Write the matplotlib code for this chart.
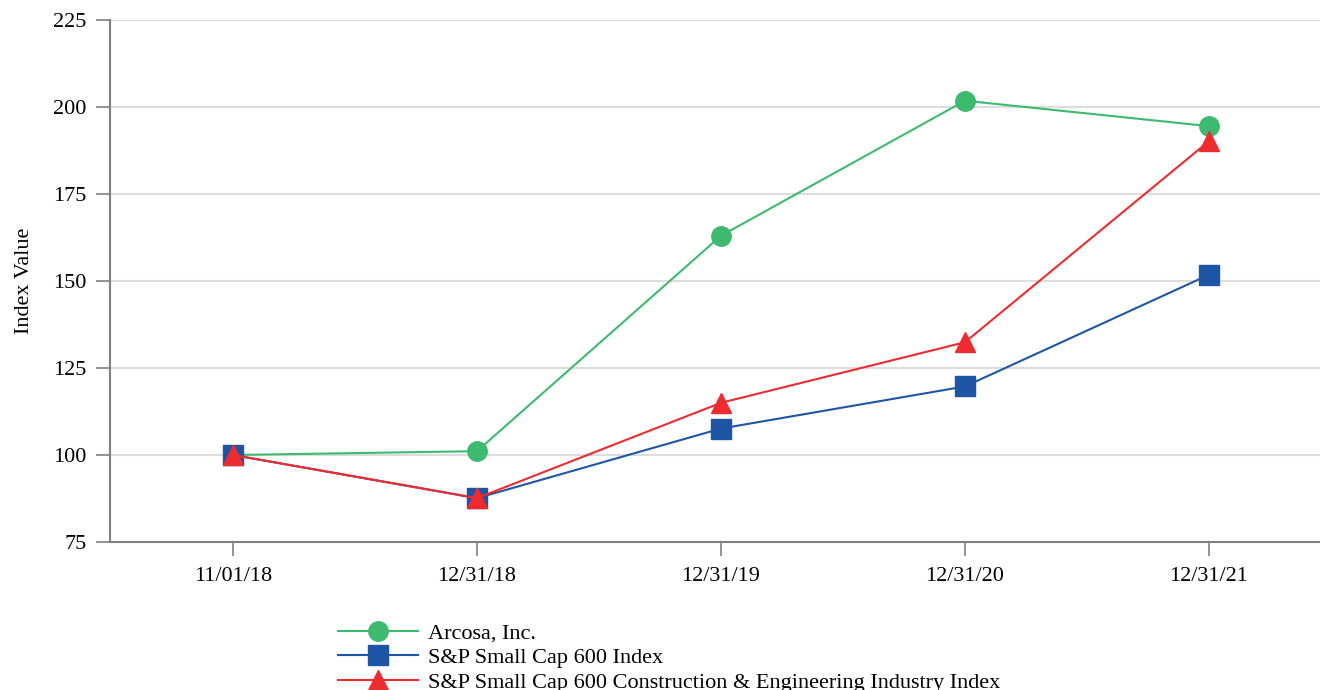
import matplotlib
matplotlib.use('Agg')
import matplotlib.pyplot as plt

dates = ['11/01/18', '12/31/18', '12/31/19', '12/31/20', '12/31/21']
arcosa = [100.0, 101.1, 163.0, 201.8, 194.5]
sp600 = [100.0, 87.6, 107.6, 119.7, 151.8]
construction = [100.0, 87.6, 115.0, 132.4, 190.2]

plt.rcParams['font.family'] = ['Liberation Serif', 'DejaVu Serif']

fig = plt.figure(figsize=(13.2, 6.9), dpi=100)
ax = fig.add_axes([110/1320, 1 - 542/690, 1 - 110/1320, 522/690])

x = list(range(len(dates)))
ax.plot(x, arcosa, color='#3dba6f', lw=1.5, marker='o', ms=14, label='Arcosa, Inc.', zorder=3)
ax.plot(x, sp600, color='#1f55a5', lw=1.5, marker='s', ms=14, label='S&P Small Cap 600 Index', zorder=4)
ax.plot(x, construction, color='#ee2b2f', lw=1.5, marker='^', ms=15,
        label='S&P Small Cap 600 Construction & Engineering Industry Index', zorder=5)

ax.set_xlim(-0.504, 4.455)
ax.set_ylim(75, 225)
ax.set_yticks([75, 100, 125, 150, 175, 200, 225])
ax.set_xticks(x)
ax.set_xticklabels(dates)
ax.tick_params(axis='both', labelsize=16, color='#808080', length=10, width=1.2)
ax.tick_params(axis='y', pad=7)
ax.tick_params(axis='x', pad=8)
ax.grid(axis='y', color='#dddddd', lw=1.5)
ax.set_axisbelow(True)
for s in ['top', 'right']:
    ax.spines[s].set_visible(False)
for s in ['left', 'bottom']:
    ax.spines[s].set_color('#808080')
    ax.spines[s].set_linewidth(1.5)
ax.set_ylabel('Index Value', fontsize=16, labelpad=14)

fig.legend(loc='upper left', bbox_to_anchor=(338/1320, 1 - 623/690), frameon=False,
           fontsize=16, handlelength=3.6, handletextpad=0.45, labelspacing=0.18,
           borderaxespad=0, borderpad=0)

fig.savefig('out.png', dpi=100)
